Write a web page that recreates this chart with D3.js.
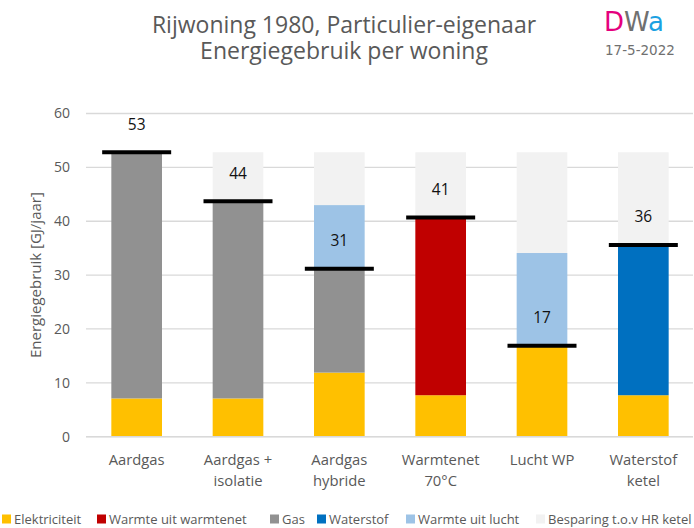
<!DOCTYPE html>
<html>
<head>
<meta charset="utf-8">
<script src="https://cdn.jsdelivr.net/npm/d3@7"></script>
<style>
  body { margin: 0; background: #fff; }
  svg { display: block; font-family: "Open Sans", Lato, sans-serif; }
</style>
</head>
<body>
<div id="chart"></div>
<script>
const categories = [
  ['Aardgas'],
  ['Aardgas +', 'isolatie'],
  ['Aardgas', 'hybride'],
  ['Warmtenet', '70°C'],
  ['Lucht WP'],
  ['Waterstof', 'ketel']
];
const elektriciteit = [7.1, 7.1, 11.9, 7.7, 16.7, 7.7];
const warmtenet     = [0, 0, 0, 33.0, 0, 0];
const gas           = [45.7, 36.6, 19.3, 0, 0, 0];
const waterstof     = [0, 0, 0, 0, 0, 27.9];
const lucht         = [0, 0, 11.8, 0, 17.4, 0];
const besparing     = [0, 9.1, 9.8, 12.1, 18.7, 17.2];
const gebruik       = [52.8, 43.7, 31.2, 40.7, 16.9, 35.6];
const yTicks = [0, 10, 20, 30, 40, 50, 60];

const series = [
  { name: 'Elektriciteit', values: elektriciteit, color: '#ffc000' },
  { name: 'Warmte uit warmtenet', values: warmtenet, color: '#c00000' },
  { name: 'Gas', values: gas, color: '#919191' },
  { name: 'Waterstof', values: waterstof, color: '#0070c0' },
  { name: 'Warmte uit lucht', values: lucht, color: '#9dc3e6' },
  { name: 'Besparing t.o.v HR ketel', values: besparing, color: '#f2f2f2' }
];

const width = 694;
const height = 528;
const margin = { top: 113.5, right: 0, bottom: 91.3, left: 86 };

const svg = d3.select('#chart')
  .append('svg')
  .attr('width', width)
  .attr('height', height);

const x = d3.scaleBand()
  .domain(d3.range(categories.length))
  .range([margin.left, width - margin.right])
  .paddingInner(0.5)
  .paddingOuter(0.25);

const y = d3.scaleLinear()
  .domain([0, 60])
  .range([height - margin.bottom, margin.top]);

// gridlines
svg.append('g')
  .selectAll('line')
  .data(yTicks)
  .join('line')
    .attr('x1', margin.left)
    .attr('x2', width - 1)
    .attr('y1', d => y(d))
    .attr('y2', d => y(d))
    .attr('stroke', '#d9d9d9')
    .attr('stroke-width', 1.3);

// y tick labels
svg.append('g')
  .selectAll('text')
  .data(yTicks)
  .join('text')
    .attr('x', 70)
    .attr('y', d => y(d))
    .attr('dy', '0.35em')
    .attr('text-anchor', 'end')
    .attr('font-size', 14)
    .attr('fill', '#595959')
    .text(d => d);

// stacked bars
const table = categories.map((c, i) => {
  const row = { i };
  series.forEach(s => { row[s.name] = s.values[i]; });
  return row;
});
const stack = d3.stack().keys(series.map(s => s.name))(table);

svg.append('g')
  .selectAll('g')
  .data(stack)
  .join('g')
    .attr('fill', (d, k) => series[k].color)
  .selectAll('rect')
  .data(d => d)
  .join('rect')
    .attr('x', d => x(d.data.i))
    .attr('width', x.bandwidth())
    .attr('y', d => y(d[1]))
    .attr('height', d => y(d[0]) - y(d[1]));

// baseline
svg.append('line')
  .attr('x1', margin.left)
  .attr('x2', width - 1)
  .attr('y1', y(0))
  .attr('y2', y(0))
  .attr('stroke', '#d9d9d9')
  .attr('stroke-width', 1.5);

// usage markers
const lineW = 69;
svg.append('g')
  .selectAll('line')
  .data(gebruik)
  .join('line')
    .attr('x1', (d, i) => x(i) + x.bandwidth() / 2 - lineW / 2)
    .attr('x2', (d, i) => x(i) + x.bandwidth() / 2 + lineW / 2)
    .attr('y1', d => y(d))
    .attr('y2', d => y(d))
    .attr('stroke', '#000')
    .attr('stroke-width', 4);

svg.append('g')
  .selectAll('text')
  .data(gebruik)
  .join('text')
    .attr('x', (d, i) => x(i) + x.bandwidth() / 2)
    .attr('y', d => y(d) - 28)
    .attr('dy', '0.35em')
    .attr('text-anchor', 'middle')
    .attr('font-size', 15.5)
    .attr('fill', '#111')
    .text(d => Math.round(d));

// category labels
svg.append('g')
  .selectAll('text')
  .data(categories)
  .join('text')
    .attr('x', (d, i) => x(i) + x.bandwidth() / 2)
    .attr('y', 460)
    .attr('text-anchor', 'middle')
    .attr('font-size', 14.8)
    .attr('fill', '#595959')
  .selectAll('tspan')
  .data(d => d)
  .join('tspan')
    .attr('x', function () { return d3.select(this.parentNode).attr('x'); })
    .attr('dy', (d, j) => j === 0 ? '0.35em' : 20.5)
    .text(d => d);

// y axis title
svg.append('text')
  .attr('transform', `translate(36, ${y(30)}) rotate(-90)`)
  .attr('dy', '0.35em')
  .attr('text-anchor', 'middle')
  .attr('font-size', 15)
  .attr('fill', '#595959')
  .text('Energiegebruik [GJ/jaar]');

// title (two lines)
const title = svg.append('text')
  .attr('text-anchor', 'middle')
  .attr('font-size', 23)
  .attr('fill', '#595959');
title.append('tspan')
  .attr('x', 344)
  .attr('y', 32.7)
  .text('Rijwoning 1980, Particulier-eigenaar');
title.append('tspan')
  .attr('x', 344)
  .attr('y', 58.5)
  .text('Energiegebruik per woning');

// logo
const logo = svg.append('text')
  .attr('x', 604)
  .attr('y', 31)
  .attr('font-family', '"DejaVu Sans", Verdana, sans-serif')
  .attr('font-size', 26);
logo.append('tspan').attr('fill', '#e5007d').text('D');
logo.append('tspan').attr('fill', '#707070').text('W');
logo.append('tspan').attr('fill', '#1ba1e2').text('a');
svg.append('text')
  .attr('x', 605)
  .attr('y', 55)
  .attr('font-family', '"DejaVu Sans", Verdana, sans-serif')
  .attr('font-size', 13.5)
  .attr('fill', '#707070')
  .text('17-5-2022');

// legend
const legendX = [2, 97, 270, 317, 406, 536];
const legend = svg.append('g')
  .selectAll('g')
  .data(series)
  .join('g')
    .attr('transform', (d, i) => `translate(${legendX[i]}, 519)`);
legend.append('rect')
  .attr('x', 0)
  .attr('y', -4.5)
  .attr('width', 9)
  .attr('height', 9)
  .attr('fill', d => d.color);
legend.append('text')
  .attr('x', 12)
  .attr('dy', '0.35em')
  .attr('font-size', 13)
  .attr('fill', '#595959')
  .text(d => d.name);
</script>
</body>
</html>
